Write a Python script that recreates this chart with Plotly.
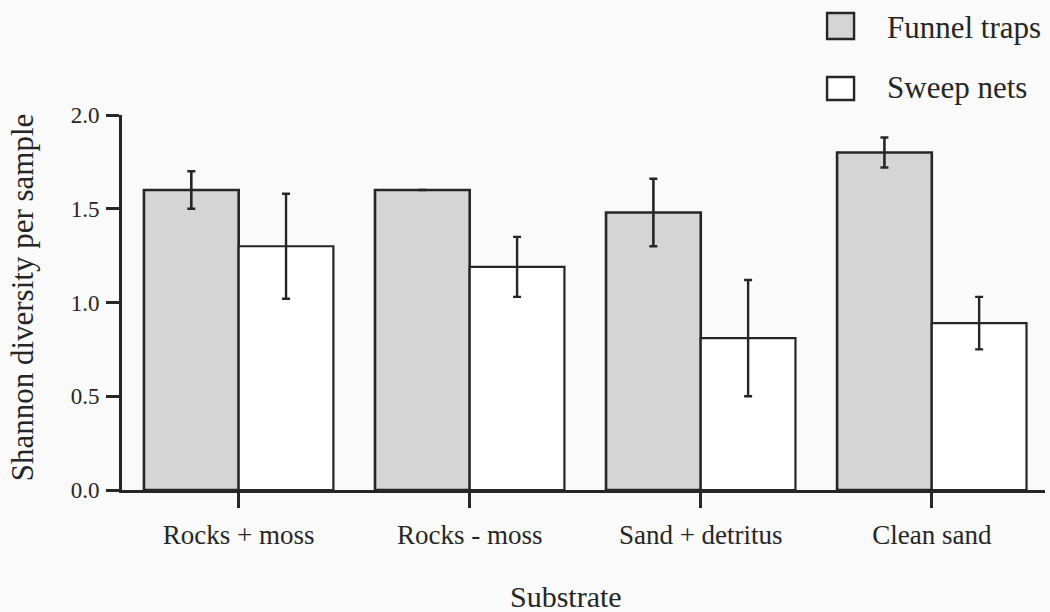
import plotly.graph_objects as go

categories = ["Rocks + moss", "Rocks - moss", "Sand + detritus", "Clean sand"]
funnel_vals = [1.60, 1.60, 1.48, 1.80]
funnel_err = [0.10, 0.0, 0.18, 0.08]
sweep_vals = [1.30, 1.19, 0.81, 0.89]
sweep_err = [0.28, 0.16, 0.31, 0.14]
y_ticks = [0.0, 0.5, 1.0, 1.5, 2.0]
y_ticklabels = ["0.0", "0.5", "1.0", "1.5", "2.0"]
series_names = ["Funnel traps", "Sweep nets"]

FONT = "Liberation Serif"
INK = "#262626"
BG = "#fafafa"
GREY = "#d5d5d5"

fig = go.Figure()
fig.add_trace(go.Bar(
    x=categories, y=funnel_vals, name=series_names[0],
    marker=dict(color=GREY, line=dict(color=INK, width=2.6)),
    error_y=dict(type="data", array=funnel_err, color=INK, thickness=2.6, width=4),
))
fig.add_trace(go.Bar(
    x=categories, y=sweep_vals, name=series_names[1],
    marker=dict(color="white", line=dict(color=INK, width=2.2)),
    error_y=dict(type="data", array=sweep_err, color=INK, thickness=2.4, width=4),
))

W, H = 1050, 612
L, R, T, B = 121.7, 5, 115, 122
pw = W - L - R
ph = H - T - B

def px(x):
    return (x - L) / pw

def py(y):
    return (H - B - y) / ph

shapes = []
annotations = []
# manual legend
legend_items = [(series_names[0], GREY, 13, 39, 27), (series_names[1], "white", 77, 100, 88)]
for name, fill, y0, y1, yc in legend_items:
    shapes.append(dict(type="rect", xref="paper", yref="paper",
                       x0=px(827), x1=px(854), y0=py(y1), y1=py(y0),
                       fillcolor=fill, line=dict(color=INK, width=2.4)))
    annotations.append(dict(text=name, xref="paper", yref="paper", x=px(885), y=py(yc),
                            xanchor="left", yanchor="middle", showarrow=False,
                            font=dict(family=FONT, size=31, color=INK)))
# axis titles
annotations.append(dict(text="Shannon diversity per sample", xref="paper", yref="paper",
                        x=px(22), y=py(297), textangle=-90, xanchor="center", yanchor="middle",
                        showarrow=False, font=dict(family=FONT, size=31, color=INK)))
annotations.append(dict(text="Substrate", xref="paper", yref="paper",
                        x=px(566), y=py(596), xanchor="center", yanchor="middle",
                        showarrow=False, font=dict(family=FONT, size=30, color=INK)))

fig.update_layout(
    width=W, height=H,
    margin=dict(l=L, r=R, t=T, b=B, pad=0),
    paper_bgcolor=BG, plot_bgcolor=BG,
    barmode="group", bargap=0.18, bargroupgap=0.0,
    showlegend=False,
    shapes=shapes, annotations=annotations,
    font=dict(family=FONT, color=INK),
)
fig.update_xaxes(
    range=[-0.505, 3.49], showgrid=False, zeroline=False,
    showline=True, linecolor=INK, linewidth=2.6,
    ticks="outside", ticklen=15, tickwidth=2.6, tickcolor=INK,
    tickfont=dict(family=FONT, size=27, color=INK), ticklabelstandoff=4,
)
fig.update_yaxes(
    range=[0, 2.0], showgrid=False, zeroline=False,
    showline=True, linecolor=INK, linewidth=2.6,
    tickmode="array", tickvals=y_ticks, ticktext=y_ticklabels,
    ticks="outside", ticklen=13, tickwidth=2.6, tickcolor=INK,
    tickfont=dict(family=FONT, size=23, color=INK), ticklabelstandoff=2,
)

fig.write_html("out.html")
